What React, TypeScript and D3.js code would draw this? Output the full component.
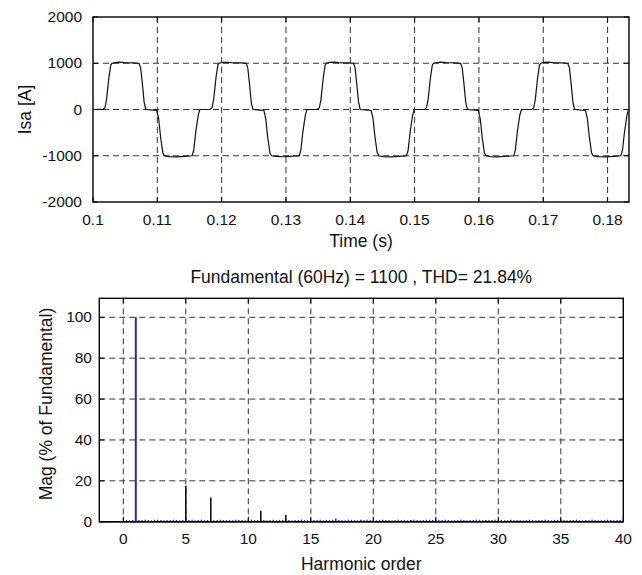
import React from "react";
import * as d3 from "d3";

// ---------- Top plot data: phase current Isa (time in ms after 0.1 s, current in A) ----------
const timeMs = [
  0, 1.0,
  1.56, 1.86, 2.11, 2.46, 2.76, 2.96, 3.46, 4.06, 4.86, 6.36, 7.16, 7.41, 7.66, 7.96, 8.21, 9.91, 10.21, 10.51, 10.86, 11.11, 11.76, 12.96, 14.26, 15.41, 15.66, 15.96, 16.36, 16.61,
  18.22, 18.52, 18.77, 19.12, 19.42, 19.62, 20.12, 20.72, 21.52, 23.02, 23.82, 24.07, 24.32, 24.62, 24.87, 26.57, 26.87, 27.17, 27.52, 27.77, 28.42, 29.62, 30.92, 32.07, 32.32, 32.62, 33.02, 33.27,
  34.89, 35.19, 35.44, 35.79, 36.09, 36.29, 36.79, 37.39, 38.19, 39.69, 40.49, 40.74, 40.99, 41.29, 41.54, 43.24, 43.54, 43.84, 44.19, 44.44, 45.09, 46.29, 47.59, 48.74, 48.99, 49.29, 49.69, 49.94,
  51.56, 51.86, 52.11, 52.46, 52.76, 52.96, 53.46, 54.06, 54.86, 56.36, 57.16, 57.41, 57.66, 57.96, 58.21, 59.91, 60.21, 60.51, 60.86, 61.11, 61.76, 62.96, 64.26, 65.41, 65.66, 65.96, 66.36, 66.61,
  68.22, 68.52, 68.77, 69.12, 69.42, 69.62, 70.12, 70.72, 71.52, 73.02, 73.82, 74.07, 74.32, 74.62, 74.87, 76.57, 76.87, 77.17, 77.52, 77.77, 78.42, 79.62, 80.92, 82.07, 82.32, 82.62, 83.02, 83.27, 83.33,
];
const currentA = [
  0, 4,
  0, 40, 220, 680, 960, 1000, 1015, 1025, 1015, 1010, 995, 900, 580, 150, 0, -20, -200, -600, -940, -1000, -1018, -1025, -1012, -1000, -880, -500, -120, 0,
  0, 45, 230, 690, 965, 1000, 1020, 1022, 1012, 1008, 998, 890, 570, 140, 0, -18, -210, -610, -945, -1000, -1015, -1022, -1010, -1002, -875, -490, -115, 0,
  0, 38, 215, 675, 958, 1000, 1018, 1026, 1014, 1006, 996, 905, 585, 155, 0, -22, -195, -595, -938, -1000, -1020, -1026, -1014, -998, -885, -505, -125, 0,
  0, 42, 225, 685, 962, 1000, 1016, 1024, 1016, 1009, 997, 895, 575, 145, 0, -19, -205, -605, -942, -1000, -1017, -1024, -1011, -1001, -878, -495, -118, 0,
  0, 40, 220, 680, 960, 1000, 1017, 1025, 1013, 1010, 995, 900, 580, 150, 0, -21, -200, -600, -940, -1000, -1019, -1025, -1012, -1000, -880, -500, -120, 0, 0,
];
const topXTicks = [0.1, 0.11, 0.12, 0.13, 0.14, 0.15, 0.16, 0.17, 0.18];
const topXTickLabels = ["0.1", "0.11", "0.12", "0.13", "0.14", "0.15", "0.16", "0.17", "0.18"];
const topYTicks = [-2000, -1000, 0, 1000, 2000];

// ---------- Bottom plot data: harmonic spectrum (% of fundamental) ----------
const harmonicOrders = [1, 5, 7, 11, 13, 17, 19, 23, 25, 29, 31, 35, 37];
const harmonicMags = [100, 17.6, 11.8, 5.4, 3.3, 1.6, 1.0, 0.8, 0.7, 0.6, 0.6, 0.5, 0.5];
// small inter-harmonic components, orders 0.25 .. 40 in steps of 0.25
const noiseMags = [
  0.4, 0.3, 0.5, 0, 0.5, 0.4, 0.6, 0.4, 0.3, 0.5, 0.6, 0.4, 0.3, 0.5, 0.4, 0.6,
  0.5, 0.3, 0.4, 0, 0.4, 0.6, 0.3, 0.5, 0.6, 0.4, 0.5, 0, 0.3, 0.5, 0.6, 0.4,
  0.4, 0.5, 0.3, 0.6, 0.5, 0.4, 0.3, 0.5, 0.6, 0.4, 0.5, 0, 0.4, 0.3, 0.5, 0.6,
  0.3, 0.5, 0.4, 0.6, 0.5, 0.3, 0.4, 0.5, 0.6, 0.4, 0.3, 0.5, 0.4, 0.5, 0.6, 0.3,
  0.5, 0.4, 0.6, 0, 0.4, 0.5, 0.3, 0.6, 0.5, 0.4, 0.3, 0, 0.5, 0.6, 0.4, 0.5,
  0.3, 0.4, 0.6, 0.5, 0.4, 0.3, 0.5, 0.6, 0.4, 0.5, 0.3, 0.4, 0.6, 0.5, 0.3, 0.4,
  0.5, 0.6, 0.4, 0.3, 0.5, 0.4, 0.6, 0.5, 0.3, 0.4, 0.5, 0.6, 0.4, 0.3, 0.5, 0.4,
  0.6, 0.5, 0.3, 0.4, 0.5, 0.4, 0.6, 0.3, 0.5, 0.4, 0.3, 0.6, 0.5, 0.4, 0.5, 0.3,
  0.4, 0.6, 0.5, 0.3, 0.4, 0.5, 0.6, 0.4, 0.3, 0.5, 0.4, 0.6, 0.5, 0.3, 0.4, 0.5,
  0.6, 0.4, 0.3, 0.5, 0.4, 0.6, 0.5, 0.3, 0.4, 0.5, 0.6, 0.4, 0.3, 0.5, 0.4, 0.5,
];
const botXTicks = [0, 5, 10, 15, 20, 25, 30, 35, 40];
const botYTicks = [0, 20, 40, 60, 80, 100];

const titleText = "Fundamental (60Hz) = 1100 , THD= 21.84%";

const FONT = "'Liberation Sans', Arial, Helvetica, sans-serif";
const NAVY = "#2c2c8e";
const GRID = "#333";

export default function App() {
  // ---- top axes ----
  const tL = 93, tR = 629, tT = 17, tB = 202;
  const xT = d3.scaleLinear().domain([0.1, 0.1 + 5 / 60]).range([tL, tR]);
  const yT = d3.scaleLinear().domain([-2000, 2000]).range([tB, tT]);
  const wave = timeMs.map((t, i) => [0.1 + t / 1000, currentA[i]] as [number, number]);
  const line = d3.line<[number, number]>().x((d) => xT(d[0])).y((d) => yT(d[1]));

  // ---- bottom axes ----
  const bL = 99.3, bR = 623.3, bT = 298.3, bB = 521.7;
  const xB = d3.scaleLinear().domain([-1.92, 40]).range([bL, bR]);
  const yB = d3.scaleLinear().domain([0, 109.3]).range([bB, bT]);
  const noise = noiseMags.map((m, i) => ({ order: (i + 1) * 0.25, mag: m }));
  const harm = harmonicOrders.map((o, i) => ({ order: o, mag: harmonicMags[i] }));

  const tick = 5;

  return (
    <svg
      width={642}
      height={575}
      style={{ position: "absolute", left: 0, top: 0, background: "#fff" }}
      fontFamily={FONT}
    >
      <rect x={0} y={0} width={642} height={575} fill="#fff" />

      {/* ===== TOP PLOT ===== */}
      {topXTicks.filter((v) => v > 0.1).map((v) => (
        <line key={"tgx" + v} x1={xT(v)} x2={xT(v)} y1={tT} y2={tB} stroke={GRID} strokeWidth={1} strokeDasharray="6,4" />
      ))}
      {topYTicks.filter((v) => v > -2000 && v < 2000).map((v) => (
        <line key={"tgy" + v} x1={tL} x2={tR} y1={yT(v)} y2={yT(v)} stroke={GRID} strokeWidth={1} strokeDasharray="6,4" />
      ))}
      <path d={line(wave) || ""} fill="none" stroke="#111" strokeWidth={1.2} />
      <rect x={tL} y={tT} width={tR - tL} height={tB - tT} fill="none" stroke="#000" strokeWidth={1.4} />
      {topXTicks.map((v) => (
        <g key={"ttx" + v}>
          <line x1={xT(v)} x2={xT(v)} y1={tB} y2={tB - tick} stroke="#000" />
          <line x1={xT(v)} x2={xT(v)} y1={tT} y2={tT + tick} stroke="#000" />
        </g>
      ))}
      {topYTicks.map((v) => (
        <g key={"tty" + v}>
          <line x1={tL} x2={tL + tick} y1={yT(v)} y2={yT(v)} stroke="#000" />
          <line x1={tR} x2={tR - tick} y1={yT(v)} y2={yT(v)} stroke="#000" />
        </g>
      ))}
      {topXTicks.map((v, i) => (
        <text key={"tlx" + v} x={xT(v)} y={225} fontSize={15.5} textAnchor="middle" fill="#111">
          {topXTickLabels[i]}
        </text>
      ))}
      {topYTicks.map((v) => (
        <text key={"tly" + v} x={82} y={yT(v) + 5} fontSize={15.5} textAnchor="end" fill="#111">
          {String(v)}
        </text>
      ))}
      <text x={(tL + tR) / 2} y={247} fontSize={17.5} textAnchor="middle" fill="#111">
        Time (s)
      </text>
      <text
        transform={`translate(31,${(tT + tB) / 2}) rotate(-90)`}
        fontSize={17.5}
        textAnchor="middle"
        fill="#111"
      >
        Isa [A]
      </text>

      {/* ===== BOTTOM PLOT ===== */}
      <text x={(bL + bR) / 2} y={283} fontSize={17.5} textAnchor="middle" fill="#111">
        {titleText}
      </text>
      {botXTicks.filter((v) => v < 40).map((v) => (
        <line key={"bgx" + v} x1={xB(v)} x2={xB(v)} y1={bT} y2={bB} stroke={GRID} strokeWidth={1} strokeDasharray="6,4" />
      ))}
      {botYTicks.filter((v) => v > 0).map((v) => (
        <line key={"bgy" + v} x1={bL} x2={bR} y1={yB(v)} y2={yB(v)} stroke={GRID} strokeWidth={1} strokeDasharray="6,4" />
      ))}
      <line x1={bL} x2={bR} y1={bB} y2={bB} stroke="#000" strokeWidth={1.6} />
      {noise.filter((d) => d.mag > 0).map((d, i) => (
        <line key={"n" + i} x1={xB(d.order)} x2={xB(d.order)} y1={yB(0)} y2={yB(d.mag) - 0.8} stroke={NAVY} strokeWidth={1.3} />
      ))}
      {harm.map((d) => (
        <line
          key={"h" + d.order}
          x1={xB(d.order)}
          x2={xB(d.order)}
          y1={yB(0)}
          y2={yB(d.mag)}
          stroke={d.order === 1 || d.mag < 2 ? NAVY : "#111"}
          strokeWidth={d.order === 1 ? 2 : 1.6}
        />
      ))}
      <rect x={bL} y={bT} width={bR - bL} height={bB - bT} fill="none" stroke="#000" strokeWidth={1.4} />
      {botXTicks.map((v) => (
        <g key={"btx" + v}>
          <line x1={xB(v)} x2={xB(v)} y1={bB} y2={bB - tick} stroke="#000" />
          <line x1={xB(v)} x2={xB(v)} y1={bT} y2={bT + tick} stroke="#000" />
        </g>
      ))}
      {botYTicks.map((v) => (
        <g key={"bty" + v}>
          <line x1={bL} x2={bL + tick} y1={yB(v)} y2={yB(v)} stroke="#000" />
          <line x1={bR} x2={bR - tick} y1={yB(v)} y2={yB(v)} stroke="#000" />
        </g>
      ))}
      {botXTicks.map((v) => (
        <text key={"blx" + v} x={xB(v)} y={544} fontSize={15.5} textAnchor="middle" fill="#111">
          {String(v)}
        </text>
      ))}
      {botYTicks.map((v) => (
        <text key={"bly" + v} x={92} y={yB(v) + 5} fontSize={15.5} textAnchor="end" fill="#111">
          {String(v)}
        </text>
      ))}
      <text x={(bL + bR) / 2} y={570} fontSize={17.5} textAnchor="middle" fill="#111">
        Harmonic order
      </text>
      <text
        transform={`translate(52,404) rotate(-90)`}
        fontSize={17.5}
        textAnchor="middle"
        fill="#111"
      >
        Mag (% of Fundamental)
      </text>
    </svg>
  );
}
